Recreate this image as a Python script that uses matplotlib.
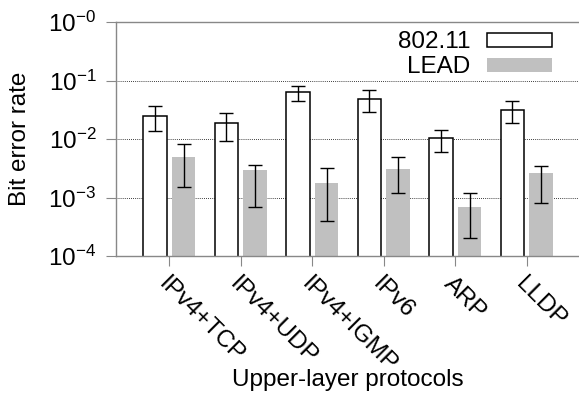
import numpy as np
import matplotlib
matplotlib.use("Agg")
import matplotlib.pyplot as plt
import matplotlib.transforms as mtransforms

plt.rcParams['font.family'] = ['Liberation Sans', 'DejaVu Sans']
plt.rcParams['mathtext.fontset'] = 'custom'
plt.rcParams['mathtext.rm'] = 'Liberation Sans'
plt.rcParams['mathtext.it'] = 'Liberation Sans'

protocols = ['IPv4+TCP', 'IPv4+UDP', 'IPv4+IGMP', 'IPv6', 'ARP', 'LLDP']

wifi = [0.025, 0.0185, 0.064, 0.049, 0.0103, 0.031]
wifi_lo = [0.0137, 0.0091, 0.0446, 0.0286, 0.0061, 0.0188]
wifi_hi = [0.037, 0.0278, 0.0816, 0.0688, 0.0143, 0.044]

lead = [0.005, 0.00295, 0.0018, 0.0031, 0.0007, 0.0026]
lead_lo = [0.0015, 0.0007, 0.0004, 0.0012, 0.0002, 0.0008]
lead_hi = [0.0082, 0.0036, 0.0032, 0.0049, 0.0012, 0.0034]

yticks = [1e-4, 1e-3, 1e-2, 1e-1, 1e0]
ytick_labels = [r'$\mathregular{10^{-4}}$', r'$\mathregular{10^{-3}}$', r'$\mathregular{10^{-2}}$',
                r'$\mathregular{10^{-1}}$', r'$\mathregular{10^{-0}}$']

FS = 17.5
GRAY = '#888888'

fig = plt.figure(figsize=(5.79, 4.08), dpi=100)
ax = fig.add_axes([116 / 579, 1 - 256 / 408, 463 / 579, 234 / 408])

x = np.arange(len(protocols))
w = 0.33
off = 0.2

def errs(vals, lo, hi):
    v = np.array(vals)
    return [v - np.array(lo), np.array(hi) - v]

ax.bar(x - off, wifi, w, color='white', edgecolor='black', linewidth=1.1,
       label='802.11', zorder=2)
ax.bar(x + off, lead, w, color='#c0c0c0', edgecolor='none', label='LEAD', zorder=2)
ax.errorbar(x - off, wifi, yerr=errs(wifi, wifi_lo, wifi_hi), fmt='none',
            ecolor='black', elinewidth=1.0, capsize=4.8, capthick=1.0, zorder=3)
ax.errorbar(x + off, lead, yerr=errs(lead, lead_lo, lead_hi), fmt='none',
            ecolor='black', elinewidth=1.0, capsize=4.8, capthick=1.0, zorder=3)

ax.set_yscale('log')
ax.set_ylim(1e-4, 1e0)
ax.set_xlim(-0.745, 5.73)
ax.set_yticks(yticks)
ax.set_yticklabels(ytick_labels, fontsize=FS)
ax.minorticks_off()
ax.yaxis.grid(True, linestyle=(0, (1, 1.5)), color='black', linewidth=0.6)
ax.set_axisbelow(True)

ax.set_xticks(x)
ax.set_xticklabels(protocols, fontsize=FS, rotation=-45, ha='left', va='top',
                   rotation_mode='anchor')
# gnuplot puts the rotated labels a little right of the tick
shift = mtransforms.ScaledTranslation(5 / 100, 0, fig.dpi_scale_trans)
for lab in ax.get_xticklabels():
    lab.set_transform(lab.get_transform() + shift)

ax.tick_params(axis='both', direction='out', length=7.2, width=0.8, color=GRAY)
ax.tick_params(axis='y', pad=7)
ax.tick_params(axis='x', pad=5)

for s in ['left', 'bottom', 'top']:
    ax.spines[s].set_color(GRAY)
    ax.spines[s].set_linewidth(1.0)
ax.spines['right'].set_visible(False)

ax.set_xlabel('Upper-layer protocols', fontsize=FS, va='center')
ax.xaxis.set_label_coords(0.5, -0.53)
ax.set_ylabel('Bit error rate', fontsize=FS, va='center')
ax.yaxis.set_label_coords(-0.207, 0.5)

ax.legend(loc='upper right', bbox_to_anchor=(0.942, 0.96), frameon=False,
          fontsize=FS, markerfirst=False, handlelength=2.7, handleheight=0.5,
          handletextpad=0.65, labelspacing=0.12, borderpad=0, borderaxespad=0)

fig.savefig('out.png', dpi=100)
